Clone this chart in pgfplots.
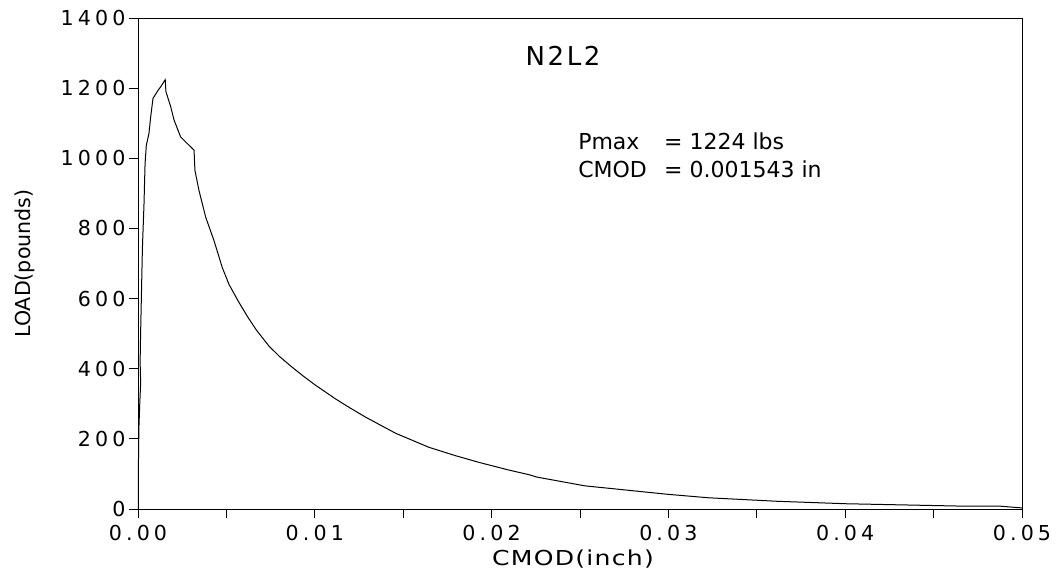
\documentclass[border=0pt]{standalone}
\usepackage{fontspec}
\setmainfont{DejaVu Sans}
\newfontfamily\tickfont[LetterSpace=20]{DejaVu Sans}
\newfontfamily\wfont[FakeStretch=1.22,LetterSpace=6]{DejaVu Sans}
\newfontfamily\nfont[LetterSpace=10]{DejaVu Sans}
\usepackage{pgfplots}
\pgfplotsset{compat=1.18}
\pgfplotstableread{
x y
0 0
0.00003 150
0.00005 230
0.0001 300
0.00015 360
0.00012 420
0.00015 506
0.00025 745
0.00034 870
0.0004 985
0.00047 1037
0.00062 1071
0.00072 1119
0.00085 1171
0.00115 1195
0.00130 1205
0.00154 1224
0.00158 1190
0.00185 1147
0.00204 1109
0.00241 1061
0.00279 1042
0.00317 1023
0.00322 966
0.00345 908
0.00383 832
0.0043 765
0.00477 688
0.00515 640
0.0057 590
0.0062 548
0.0067 510
0.0074 465
0.0080 435
0.0087 405
0.0094 377
0.01004 353
0.01117 314
0.0120 288
0.01287 262
0.01457 216
0.01645 176
0.01796 152
0.01928 133
0.02098 111
0.0221 98
0.02256 91
0.02528 66
0.02645 60
0.02994 42
0.03227 32
0.03616 22
0.04004 15
0.04392 11
0.04683 8
0.04878 8
0.05 3
}\curve
\begin{document}
\begin{tikzpicture}
\begin{axis}[
  scale only axis, width=884bp, height=491bp,
  xmin=0, xmax=0.05, ymin=0, ymax=1400,
  xtick={0,0.01,0.02,0.03,0.04,0.05},
  minor xtick={0.005,0.015,0.025,0.035,0.045},
  ytick={0,200,400,600,800,1000,1200,1400},
  xtick pos=bottom, ytick pos=left,
  tick align=outside,
  major tick length=9bp, minor tick length=9bp,
  axis line style={line width=0.9bp},
  tick style={line width=0.9bp, black},
  scaled x ticks=false,
  /pgf/number format/assume math mode=true,
  xticklabel style={yshift=-4bp, /pgf/number format/.cd, fixed, fixed zerofill, precision=2},
  yticklabel style={/pgf/number format/.cd, fixed, precision=0, 1000 sep={}},
  ticklabel style={font=\tickfont\fontsize{20.6bp}{24bp}\selectfont},
  xlabel={CMOD(inch)}, ylabel={LOAD(pounds)},
  every axis x label/.style={at={(axis description cs:0.5,0)}, anchor=north, yshift=-41bp, xshift=-7bp, inner sep=0pt, font=\wfont\fontsize{20.6bp}{24bp}\selectfont},
  every axis y label/.style={at={(axis description cs:-0.1165,0.5)}, rotate=90, anchor=south, inner sep=0pt, font=\fontsize{20.6bp}{24bp}\selectfont},
]
\addplot[black, line width=1bp] table[x=x,y=y] {\curve};
\node[font=\nfont\fontsize{26bp}{30bp}\selectfont, anchor=center] at (axis cs:0.02404,1292) {N2L2};
\node[font=\fontsize{22bp}{26bp}\selectfont, anchor=base west, inner sep=0pt] at (axis cs:0.02489,1024) {Pmax};
\node[font=\fontsize{22bp}{26bp}\selectfont, anchor=base west, inner sep=0pt] at (axis cs:0.02975,1024) {=\ 1224 lbs};
\node[font=\fontsize{22bp}{26bp}\selectfont, anchor=base west, inner sep=0pt] at (axis cs:0.02489,944) {CMOD};
\node[font=\fontsize{22bp}{26bp}\selectfont, anchor=base west, inner sep=0pt] at (axis cs:0.02975,944) {=\ 0.001543 in};
\end{axis}
\path ([xshift=-138bp,yshift=-64bp]current axis.south west) rectangle ([xshift=36bp,yshift=18bp]current axis.north east);
\end{tikzpicture}
\end{document}
